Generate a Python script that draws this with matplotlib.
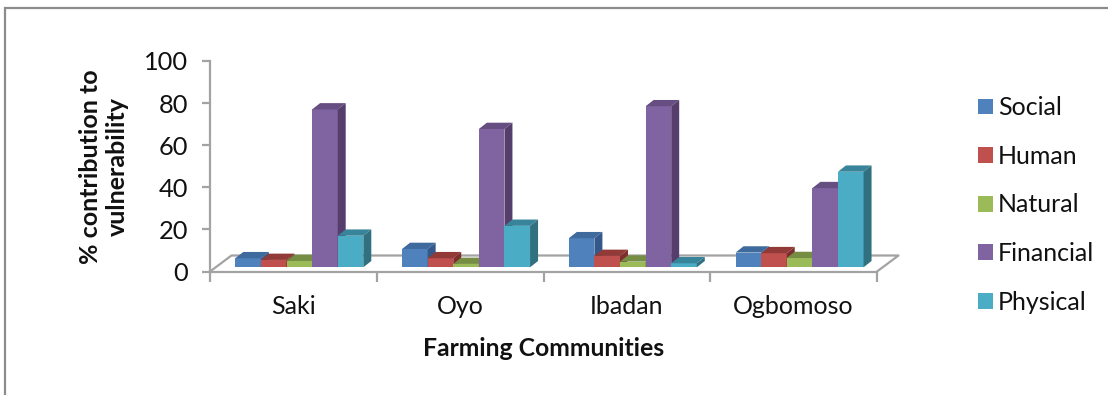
import matplotlib
matplotlib.use("Agg")
import matplotlib.pyplot as plt
import numpy as np
from matplotlib.patches import Polygon, Rectangle

plt.rcParams["font.family"] = ["Lato", "DejaVu Sans"]

communities = ["Saki", "Oyo", "Ibadan", "Ogbomoso"]
series_names = ["Social", "Human", "Natural", "Financial", "Physical"]
social = [4.3, 8.7, 13.8, 7.0]
human = [3.5, 4.3, 5.4, 6.7]
natural = [3.0, 1.6, 2.7, 4.4]
financial = [75.0, 65.7, 76.5, 37.6]
physical = [15.0, 19.7, 1.9, 45.4]
series_values = [social, human, natural, financial, physical]
y_ticks = [0, 20, 40, 60, 80, 100]

front = ["#4F81BD", "#C0504D", "#9BBB59", "#8064A2", "#4BACC6"]
top = ["#3E6A9E", "#923A38", "#768E44", "#664E83", "#38849A"]
side = ["#35588A", "#7E2F2D", "#667B3A", "#553E6B", "#31707F"]
edge = ["#7FA3D1", "#D68583", "#BCD38A", "#A68FC2", "#85CBDD"]
GREY = "#A3A3A3"

W, H = 1108, 395
fig = plt.figure(figsize=(W / 100, H / 100), dpi=100)
left, right, y_zero, y_full = 210, 877, 271.5, 61
ax = fig.add_axes([left / W, (H - y_zero) / H, (right - left) / W, (y_zero - y_full) / H])
ax.set_xlim(0, 4)
ax.set_ylim(0, 100)

# pixel sizes of the fake 3D projection, in data units
px_x = 4 / (right - left)
px_y = 100 / (y_zero - y_full)
bar_w = 25.6 * px_x
dep_x, dep_y = 8 * px_x, 6.3 * px_y
base = 4.2 * px_y
floor_x, floor_y = 21.5 * px_x, 16 * px_y
first_bar = (235.3 - left) * px_x

xs = np.arange(len(communities))
for i, (name, vals) in enumerate(zip(series_names, series_values)):
    z = 3 + i
    pos = xs + first_bar + i * bar_w
    ax.bar(pos, vals, bar_w, bottom=base, align="edge", color=front[i], edgecolor=edge[i],
           linewidth=0.6, label=name, zorder=z, clip_on=False)
    for x, v in zip(pos, vals):
        t = base + v
        ax.add_patch(Polygon([(x, t), (x + bar_w, t), (x + bar_w + dep_x, t + dep_y), (x + dep_x, t + dep_y)],
                             facecolor=top[i], edgecolor="none", zorder=z, clip_on=False))
        ax.add_patch(Polygon([(x + bar_w, base), (x + bar_w + dep_x, base + dep_y),
                              (x + bar_w + dep_x, t + dep_y), (x + bar_w, t)],
                             facecolor=side[i], edgecolor="none", zorder=z, clip_on=False))

# floor outline behind the bars
ax.plot([0, floor_x, 4 + floor_x, 4], [0, floor_y, floor_y, 0], color=GREY, lw=1.6, zorder=2, clip_on=False)

for s in ["top", "right"]:
    ax.spines[s].set_visible(False)
for s in ["left", "bottom"]:
    ax.spines[s].set_color(GREY)
    ax.spines[s].set_linewidth(1.6)

ax.set_yticks(y_ticks)
ax.tick_params(axis="y", labelsize=18.3, length=6, width=1.6, color=GREY, pad=10, labelcolor="#111111")
ax.set_xticks(np.arange(5))
ax.set_xticklabels([])
ax.set_xticks(xs + 0.5, labels=communities, minor=True)
ax.tick_params(axis="x", which="major", length=7, width=1.6, color=GREY)
ax.tick_params(axis="x", which="minor", length=0, labelsize=18, pad=17, labelcolor="#111111")

fig.text(544 / W, 1 - 348 / H, "Farming Communities", ha="center", va="center",
         fontsize=17.8, fontweight="bold", color="#111111")
fig.text(104 / W, 1 - 167 / H, "% contribution to\nvulnerability", ha="center", va="center",
         rotation=90, fontsize=18, fontweight="bold", color="#111111", linespacing=1.25)

handles, labels = ax.get_legend_handles_labels()
for h in handles:
    for p in h:
        p.set_edgecolor("none")
ax.legend(handles, labels, loc="center left", bbox_to_anchor=(978 / W, 1 - 205 / H),
          bbox_transform=fig.transFigure, frameon=False, fontsize=18, handlelength=0.6,
          handleheight=0.6, handletextpad=0.21, labelspacing=1.024, borderpad=0, borderaxespad=0,
          labelcolor="#111111")

# outer chart frame, only top and left edges show
fig.add_artist(Rectangle((5 / W, -0.1), 2 / W + 2, 1 + 0.1 - 8 / H, transform=fig.transFigure,
                         facecolor="none", edgecolor="#8C8C8C", linewidth=1.6))

fig.savefig("out.png", dpi=100)
plt.close(fig)
